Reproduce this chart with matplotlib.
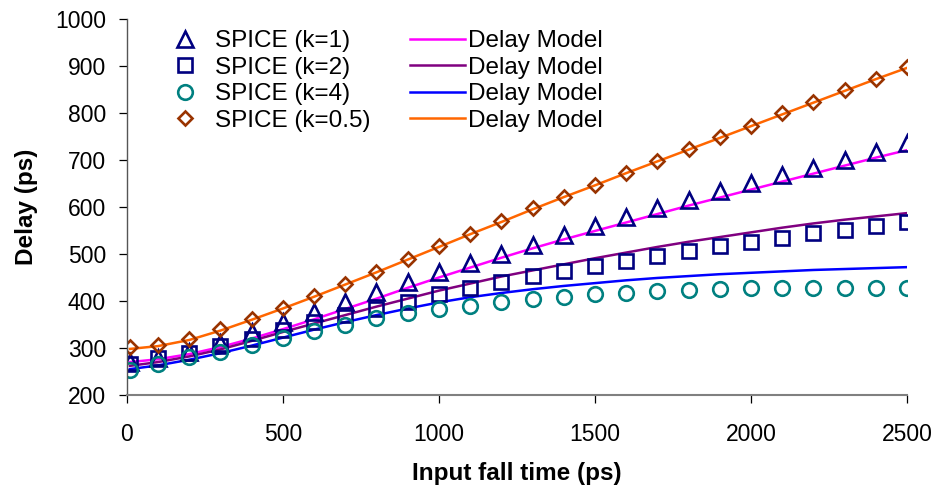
import matplotlib
matplotlib.use("Agg")
import matplotlib.pyplot as plt
from matplotlib.lines import Line2D

# input fall time (ps)
t_in = [10, 100, 200, 300, 400, 500, 600, 700, 800, 900, 1000, 1100, 1200,
        1300, 1400, 1500, 1600, 1700, 1800, 1900, 2000, 2100, 2200, 2300, 2400, 2500]

# SPICE results (ps)
spice_k1 = [270, 279, 292, 311, 334, 355, 376, 398, 420, 441, 461, 481, 500,
            519, 540, 559, 578, 597, 615, 633, 650, 668, 684, 701, 718, 736]
spice_k2 = [266, 278, 290, 304, 320, 338, 356, 370, 384, 398, 415, 427, 441,
            453, 464, 475, 486, 496, 507, 517, 526, 535, 544, 551, 560, 567]
spice_k4 = [253, 265, 280, 292, 306, 321, 336, 349, 363, 374, 383, 390, 398,
            404, 409, 415, 418, 421, 423, 425, 427, 427, 428, 428, 428, 428]
spice_k05 = [302, 306, 319, 340, 362, 386, 411, 437, 462, 489, 517, 543, 570,
             597, 622, 647, 673, 698, 724, 748, 773, 799, 823, 848, 873, 897]

# delay model (ps)
model_k1 = [270, 276, 287, 302, 320, 340, 361, 383, 405, 428, 450, 471, 492,
            512, 531, 549, 567, 585, 603, 620, 637, 654, 671, 688, 705, 721]
model_k2 = [262, 270, 282, 297, 315, 334, 352, 370, 388, 405, 422, 437, 452,
            465, 478, 491, 503, 515, 526, 536, 546, 556, 565, 573, 580, 587]
model_k4 = [255, 263, 275, 289, 305, 322, 339, 355, 370, 384, 397, 408, 417,
            425, 432, 438, 444, 449, 453, 457, 460, 463, 466, 468, 470, 472]
model_k05 = [298, 304, 317, 337, 360, 384, 409, 435, 461, 488, 515, 542, 568,
             595, 621, 646, 672, 697, 722, 747, 772, 797, 822, 847, 872, 896]

plt.rcParams['font.family'] = ['Liberation Sans', 'DejaVu Sans']

fig = plt.figure(figsize=(9.39, 4.93), dpi=100)
ax = fig.add_axes([0.135, 0.1988, 0.831, 0.7627])

lw = 1.8
ax.plot(t_in, model_k1, color='#FF00FF', lw=lw, zorder=2)
ax.plot(t_in, model_k2, color='#800080', lw=lw, zorder=2)
ax.plot(t_in, model_k4, color='#0000FF', lw=lw, zorder=2)
ax.plot(t_in, model_k05, color='#FF6600', lw=lw, zorder=2)

mew = 1.9
ax.plot(t_in, spice_k1, ls='none', marker='^', ms=11.5, mfc='none', mec='#000080', mew=mew, zorder=3)
ax.plot(t_in, spice_k2, ls='none', marker='s', ms=9.5, mfc='none', mec='#000080', mew=mew, zorder=3)
ax.plot(t_in, spice_k4, ls='none', marker='o', ms=10.5, mfc='none', mec='#008080', mew=mew, zorder=3)
ax.plot(t_in, spice_k05, ls='none', marker='D', ms=7.5, mfc='none', mec='#993300', mew=mew, zorder=3)

ax.set_xlim(0, 2500)
ax.set_ylim(200, 1000)
ax.set_xticks([0, 500, 1000, 1500, 2000, 2500])
ax.set_yticks(range(200, 1001, 100))

for s in ['top', 'right']:
    ax.spines[s].set_visible(False)
ax.spines['left'].set_color('#555555')
ax.spines['bottom'].set_color('#808080')
ax.spines['bottom'].set_linewidth(1.5)
ax.spines['left'].set_linewidth(1.0)
ax.spines['bottom'].set_zorder(4)
ax.spines['left'].set_zorder(4)

ax.tick_params(axis='y', direction='out', length=6, width=0.9, pad=9, labelsize=16.5)
ax.tick_params(axis='x', direction='out', length=6, width=0.9, pad=14, labelsize=16.5)

ax.set_ylabel('Delay (ps)', fontsize=17.5, fontweight='bold', labelpad=12)
ax.set_xlabel('Input fall time (ps)', fontsize=17.5, fontweight='bold', labelpad=12)

# legend: markers in first column, model lines in second
handles = [
    Line2D([], [], ls='none', marker='^', ms=11.5, mfc='none', mec='#000080', mew=mew),
    Line2D([], [], ls='none', marker='s', ms=9.5, mfc='none', mec='#000080', mew=mew),
    Line2D([], [], ls='none', marker='o', ms=10.5, mfc='none', mec='#008080', mew=mew),
    Line2D([], [], ls='none', marker='D', ms=7.5, mfc='none', mec='#993300', mew=mew),
    Line2D([], [], color='#FF00FF', lw=lw),
    Line2D([], [], color='#800080', lw=lw),
    Line2D([], [], color='#0000FF', lw=lw),
    Line2D([], [], color='#FF6600', lw=lw),
]
labels = ['SPICE (k=1)', 'SPICE (k=2)', 'SPICE (k=4)', 'SPICE (k=0.5)',
          'Delay Model', 'Delay Model', 'Delay Model', 'Delay Model']
leg = ax.legend(handles, labels, ncol=2, frameon=False, fontsize=17.5,
                loc='upper left', bbox_to_anchor=(157 / 939, 1 - 30 / 493),
                bbox_transform=fig.transFigure, borderpad=0, borderaxespad=0,
                handlelength=2.27, handletextpad=0.12, columnspacing=1.62,
                labelspacing=0.19)

fig.savefig('out.png', dpi=100)
